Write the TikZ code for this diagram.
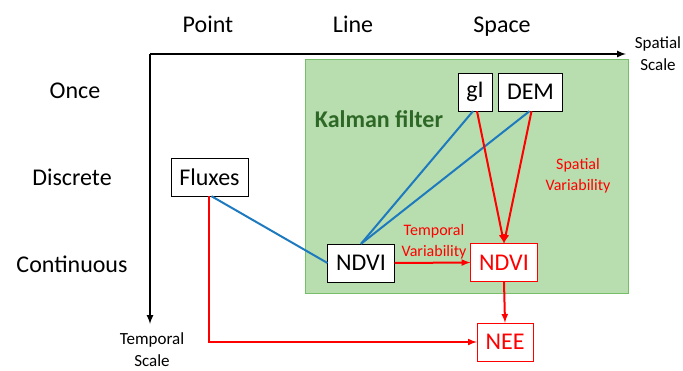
\documentclass[tikz,border=0pt]{standalone}
\usepackage{fontspec}
\setmainfont{Carlito}
\usepackage{tikz}
\definecolor{kalmanfill}{RGB}{184,222,176}
\definecolor{kalmanedge}{RGB}{118,190,104}
\definecolor{kalmantext}{RGB}{46,104,38}
\definecolor{linkblue}{RGB}{30,122,190}
\definecolor{linkred}{RGB}{255,0,0}

\begin{document}
\begin{tikzpicture}[x=1pt,y=-1pt,>=latex,
    box/.style={draw=black,fill=white,minimum height=38pt,inner xsep=8.5pt,inner ysep=0pt,font=\fontsize{24}{28}\selectfont},
    redbox/.style={box,draw=linkred,text=linkred},
    lab/.style={anchor=base,font=\fontsize{24}{28}\selectfont},
    small/.style={align=center,font=\fontsize{17}{22}\selectfont},
    note/.style={align=center,text=linkred,font=\fontsize{16}{21}\selectfont},
    blueline/.style={draw=linkblue,line width=2pt},
    redline/.style={draw=linkred,line width=2pt}]

\useasboundingbox (0,0) rectangle (683,370);

\draw[kalmanedge,fill=kalmanfill,line width=1pt] (305,59) rectangle (628,293);

\coordinate (origin) at (150,54);
\coordinate (xend) at (626,54);
\coordinate (yend) at (150,324);
\draw[line width=2pt,->] (origin) -- (xend);
\draw[line width=2pt,->] (origin) -- (yend);

\node[lab] (point) at (208,32) {Point};
\node[lab] (line) at (353,32) {Line};
\node[lab] (space) at (502,32) {Space};
\node[lab] (once) at (75,98) {Once};
\node[lab] (discrete) at (72,185) {Discrete};
\node[lab] (continuous) at (72,272) {Continuous};
\node[small] (spatialscale) at (658,54) {Spatial\\Scale};
\node[small] (temporalscale) at (152,350) {Temporal\\Scale};

\node[lab,text=kalmantext,font=\fontsize{24}{28}\selectfont\bfseries] (kalman) at (379,127) {Kalman filter};

\node[box] (gl) at (475,92) {gI};
\node[box] (dem) at (530.5,92) {DEM};
\node[box] (fluxes) at (209.5,177) {Fluxes};
\node[box] (ndvia) at (361,263) {NDVI};
\node[redbox] (ndvib) at (504,262.5) {NDVI};
\node[redbox] (nee) at (505,342) {NEE};

\node[note] (temporalvar) at (434,242) {Temporal\\Variability};
\node[note] (spatialvar) at (578,176) {Spatial\\Variability};

\draw[blueline] ([xshift=-2pt]gl.south) -- (ndvia.north);
\draw[blueline] ([xshift=-1pt]dem.south) -- (ndvia.north);
\draw[blueline] ([xshift=2pt]fluxes.south) -- (ndvia.west);
\draw[redline,->] ([xshift=2pt]gl.south) -- (ndvib.north);
\draw[redline,->] ([xshift=1pt]dem.south) -- (ndvib.north);
\draw[redline,->] (ndvia.east) -- (ndvib.west);
\draw[redline,->] (ndvib.south) -- (nee.north);
\draw[redline,->] ([xshift=-1pt]fluxes.south) |- (nee.west);
\end{tikzpicture}
\end{document}
